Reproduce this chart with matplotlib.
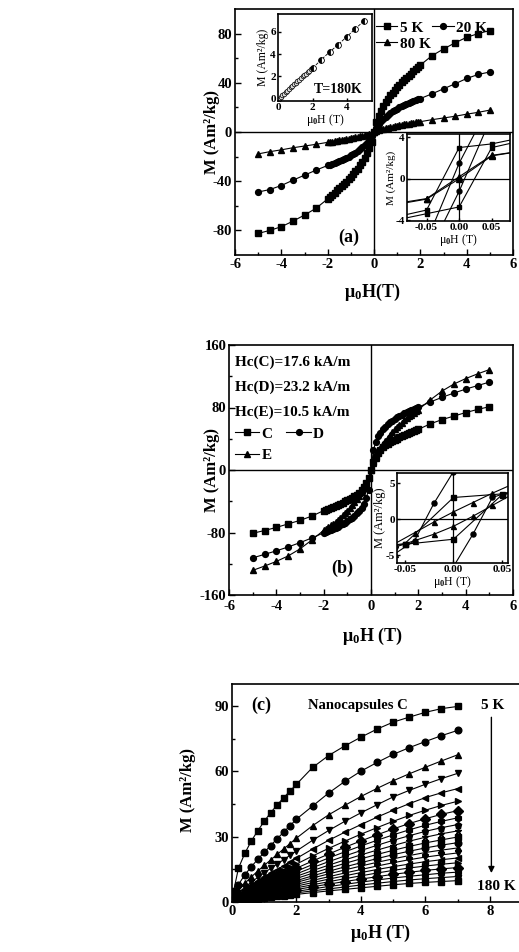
import numpy as np
import matplotlib
matplotlib.use('Agg')
import matplotlib.pyplot as plt

plt.rcParams['font.family'] = 'Liberation Serif'
plt.rcParams['font.weight'] = 'bold'
plt.rcParams['mathtext.fontset'] = 'custom'
plt.rcParams['mathtext.rm'] = 'Liberation Serif:bold'
plt.rcParams['mathtext.it'] = 'Liberation Serif:bold'
plt.rcParams['mathtext.bf'] = 'Liberation Serif:bold'
plt.rcParams['axes.unicode_minus'] = False

# ---------------- data (a): M-H loops at 5, 20, 80 K (positive half, loop is odd) ----
h_pos = [0.1, 0.2, 0.3, 0.4, 0.5, 0.6, 0.7, 0.8, 0.9, 1.0, 1.1, 1.2, 1.3, 1.4, 1.5,
         1.6, 1.7, 1.8, 1.9, 2.0, 2.5, 3.0, 3.5, 4.0, 4.5, 5.0]
m_5k = [8, 13, 17, 21, 24, 27, 30, 32, 34.5, 36.5, 38.5, 40.5, 42.3, 44, 45.8,
        47.5, 49.2, 51, 52.7, 54.4, 62, 67.5, 72.5, 77, 80, 82.5]
m_20k = [3.5, 6.5, 8.8, 10.8, 12.5, 14, 15.4, 16.7, 17.9, 19, 20, 21, 22, 22.9, 23.7,
         24.5, 25.2, 25.9, 26.5, 27.2, 31, 35.1, 39.2, 43.5, 46.8, 48.8]
m_80k = [1.0, 1.6, 2.1, 2.6, 3.0, 3.5, 3.9, 4.3, 4.7, 5.1, 5.4, 5.8, 6.1, 6.5, 6.8,
         7.1, 7.4, 7.8, 8.1, 8.4, 10, 11.4, 12.8, 14.5, 16, 17.8]

# inset: T = 180 K
ins_h_small = [0.1, 0.2, 0.3, 0.4, 0.5, 0.6, 0.7, 0.8, 0.9, 1.0, 1.1, 1.2, 1.3, 1.4,
               1.5, 1.6, 1.7, 1.8, 1.9]
ins_m_small = [0.15, 0.3, 0.45, 0.6, 0.74, 0.88, 1.02, 1.16, 1.3, 1.44, 1.58, 1.72,
               1.86, 2.0, 2.13, 2.26, 2.39, 2.51, 2.63]
ins_h_big = [2.0, 2.5, 3.0, 3.5, 4.0, 4.5, 5.0]
ins_m_big = [2.75, 3.5, 4.2, 4.85, 5.55, 6.25, 6.95]

# inset: low-field loops (descending / ascending branches)
loop_h = [0.1, 0.05, 0.0, -0.05, -0.1]
a_5k_desc = [4.0, 3.35, 3.0, -3.0, -3.7]
a_5k_asc = [3.7, 3.0, -2.7, -3.35, -4.0]
a_20k_desc = [9.5, 7.5, 1.5, -6.0, -8.5]
a_20k_asc = [8.5, 6.0, -1.2, -7.5, -9.5]
a_80k_desc = [2.7, 2.25, 0.2, -1.9, -2.4]
a_80k_asc = [2.7, 2.2, 0.0, -1.95, -2.5]

# ---------------- data (b): samples C, D, E ----
m_c = [10, 17, 22, 26, 29, 31.5, 33.5, 35.5, 37.2, 38.8, 40.3, 41.7, 43, 44.3, 45.6,
       46.9, 48.2, 49.5, 50.8, 52, 59, 64.5, 69, 73.5, 77.5, 81]
m_d = [25, 36, 43, 48, 52, 55.5, 58.5, 61, 63.3, 65.5, 67.5, 69.3, 71, 72.6, 74,
       75.4, 76.7, 78, 79.2, 80.4, 87, 93, 98.5, 103.5, 108, 112.5]
m_e = [9, 16, 22.5, 28, 33, 37.5, 41.5, 45.2, 48.7, 52, 55, 58, 60.8, 63.5, 66,
       68.5, 70.8, 73, 75.1, 77.2, 89.6, 101, 110, 117, 123, 128.5]
hc_texts = ['Hc(C)=17.6 kA/m', 'Hc(D)=23.2 kA/m', 'Hc(E)=10.5 kA/m']

b_c_h_desc = [0.1, 0.05, 0.0, -0.05, -0.1]
b_c_desc = [4.3, 3.5, 3.0, -3.4, -4.3]
b_c_asc = [4.3, 3.4, -2.8, -3.5, -4.3]
b_d_h_desc = [0.06, 0.04, 0.02, 0.0, -0.02, -0.04, -0.06]
b_d_desc = [8.6, 8.0, 7.4, 6.6, 2.2, -3.0, -3.9]
b_d_asc = [3.9, 3.0, -2.1, -6.6, -7.4, -8.0, -8.6]
b_e_h_desc = [0.08, 0.06, 0.04, 0.02, 0.0, -0.02, -0.04, -0.06, -0.08]
b_e_desc = [5.8, 4.8, 3.6, 2.3, 1.0, -0.4, -1.9, -3.4, -4.6]
b_e_asc = [4.6, 3.4, 1.9, 0.4, -1.0, -2.1, -3.0, -4.8, -5.8]

# ---------------- data (c): nanocapsules C, 5 K ... 180 K ----
c_h = [0.05, 0.2, 0.4, 0.6, 0.8, 1.0, 1.2, 1.4, 1.6, 1.8, 2.0,
       2.5, 3.0, 3.5, 4.0, 4.5, 5.0, 5.5, 6.0, 6.5, 7.0]
c_m = [
    [5, 15.5, 22.4, 28, 32.7, 37, 41, 44.5, 47.8, 50.9, 54, 61.7, 67.2, 71.6, 75.6, 79.3, 82.5, 84.8, 87, 88.7, 89.7],
    [3, 8, 12.5, 16.2, 19.6, 22.8, 25.9, 29, 32, 35, 38, 44, 50, 55.3, 60, 64, 67.7, 70.8, 73.6, 76.3, 78.7],
    [2, 5.5, 8.6, 11.5, 14.2, 16.8, 19.3, 21.8, 24.3, 26.8, 29.3, 35, 40, 44.3, 48.4, 52.1, 55.6, 58.8, 61.8, 64.7, 67.5],
    [1.5, 4.2, 6.8, 9.1, 11.3, 13.4, 15.4, 17.4, 19.4, 21.4, 23.4, 28.3, 32.8, 37, 40.9, 44.6, 48.2, 51.2, 54, 56.6, 59],
    [1.2, 3.4, 5.6, 7.6, 9.5, 11.3, 13.1, 14.9, 16.6, 18.3, 20, 24.3, 28.3, 32, 35.5, 38.9, 42.1, 45.1, 47.9, 50.1, 52],
    [1.0, 2.9, 4.8, 6.5, 8.2, 9.8, 11.4, 12.9, 14.4, 15.9, 17.4, 21.1, 24.6, 27.9, 31.1, 34.1, 37, 39.7, 42.1, 44.3, 46.2],
    [0.9, 2.5, 4.2, 5.8, 7.3, 8.7, 10.1, 11.5, 12.9, 14.2, 15.5, 18.8, 22, 25.1, 28, 30.8, 33.5, 36, 38.2, 40.2, 41.9],
    [0.8, 2.3, 3.8, 5.2, 6.6, 7.9, 9.2, 10.5, 11.7, 12.9, 14.1, 17.2, 20.2, 23, 25.7, 28.3, 30.8, 33.1, 35.2, 37, 38.6],
    [0.7, 2.1, 3.5, 4.8, 6.0, 7.2, 8.4, 9.6, 10.7, 11.8, 12.9, 15.8, 18.5, 21.1, 23.6, 26, 28.3, 30.4, 32.4, 34.1, 35.5],
    [0.6, 1.9, 3.2, 4.4, 5.5, 6.6, 7.7, 8.8, 9.8, 10.8, 11.8, 14.4, 16.9, 19.3, 21.6, 23.8, 25.9, 27.9, 29.7, 31.3, 32.6],
    [0.6, 1.7, 2.9, 4.0, 5.0, 6.0, 7.0, 8.0, 9.0, 9.9, 10.8, 13.2, 15.5, 17.7, 19.8, 21.8, 23.7, 25.5, 27.1, 28.5, 29.8],
    [0.5, 1.6, 2.6, 3.6, 4.6, 5.5, 6.4, 7.3, 8.2, 9.0, 9.8, 12.0, 14.1, 16.1, 18.0, 19.9, 21.7, 23.3, 24.8, 26.1, 27.2],
    [0.5, 1.4, 2.4, 3.3, 4.2, 5.0, 5.8, 6.6, 7.4, 8.2, 9.0, 11.0, 12.9, 14.7, 16.5, 18.2, 19.8, 21.3, 22.7, 23.8, 24.8],
    [0.4, 1.3, 2.2, 3.0, 3.8, 4.5, 5.3, 6.0, 6.7, 7.4, 8.1, 9.9, 11.6, 13.3, 14.9, 16.5, 18.0, 19.4, 20.6, 21.6, 22.5],
    [0.4, 1.2, 1.9, 2.7, 3.4, 4.1, 4.7, 5.4, 6.0, 6.7, 7.3, 8.9, 10.5, 12.0, 13.5, 14.9, 16.2, 17.4, 18.5, 19.4, 20.2],
    [0.3, 1.0, 1.7, 2.4, 3.0, 3.6, 4.2, 4.8, 5.4, 5.9, 6.5, 7.9, 9.3, 10.7, 12.0, 13.3, 14.5, 15.6, 16.5, 17.3, 18.0],
    [0.3, 0.9, 1.5, 2.1, 2.6, 3.2, 3.7, 4.2, 4.7, 5.2, 5.7, 7.0, 8.2, 9.4, 10.5, 11.6, 12.7, 13.6, 14.5, 15.2, 15.8],
    [0.2, 0.8, 1.3, 1.8, 2.3, 2.7, 3.2, 3.6, 4.1, 4.5, 4.9, 6.0, 7.1, 8.1, 9.1, 10.1, 11.0, 11.8, 12.5, 13.2, 13.7],
    [0.2, 0.7, 1.1, 1.5, 1.9, 2.3, 2.7, 3.1, 3.5, 3.8, 4.2, 5.1, 6.0, 6.9, 7.8, 8.6, 9.4, 10.1, 10.7, 11.2, 11.7],
    [0.2, 0.5, 0.9, 1.3, 1.6, 1.9, 2.3, 2.6, 2.9, 3.2, 3.5, 4.3, 5.1, 5.8, 6.5, 7.2, 7.9, 8.5, 9.0, 9.4, 9.8],
]
c_markers = ['s', 'o', '^', 'v', '<', '>', 'D', 'h', 'p', '*', 's', 'o', '^', 'v',
             '<', '>', 'D', 'h', 'p', 's']

W, H = 519, 952
fig = plt.figure(figsize=(W / 100, H / 100), dpi=100)


def px_axes(l, t, r, b):
    return fig.add_axes([l / W, 1 - b / H, (r - l) / W, (b - t) / H])


def odd(vals):
    # loop is symmetric: M(-H) = -M(H)
    return np.concatenate([-np.array(vals[::-1]), [0.0], np.array(vals)])


def style(ax, size=10, length=4, pad=2):
    for s in ax.spines.values():
        s.set_linewidth(1.2)
    ax.tick_params(direction='in', which='both', top=False, right=False,
                   labelsize=size, pad=pad, width=1.0)
    ax.tick_params(which='major', length=length)
    ax.tick_params(which='minor', length=length * 0.6)


H_full = odd(h_pos)
mk = dict(color='k', lw=0.8, ms=4.2)

# ================= panel (a) =================
ax = px_axes(235, 9, 513, 255)
l1, = ax.plot(H_full, odd(m_5k), marker='s', **mk)
l2, = ax.plot(H_full, odd(m_20k), marker='o', **mk)
l3, = ax.plot(H_full, odd(m_80k), marker='^', **mk)
ax.axhline(0, color='k', lw=1.0)
ax.axvline(0, color='k', lw=1.0)
ax.set_xlim(-6, 6)
ax.set_ylim(-100, 100)
ax.set_xticks([-6, -4, -2, 0, 2, 4, 6])
ax.set_xticks([-5, -3, -1, 1, 3, 5], minor=True)
ax.set_yticks([-80, -40, 0, 40, 80])
ax.set_yticks([-60, -20, 20, 60], minor=True)
style(ax, size=10.5)
ax.legend([l1, l3, l2], ['5 K', '80 K', '20 K'], ncol=2, loc='upper left',
          bbox_to_anchor=((376 - 235) / 278, 1 - 12 / 246), frameon=False,
          fontsize=11, handlelength=1.4, handletextpad=0.15, columnspacing=0.1,
          labelspacing=0.15, borderaxespad=0, borderpad=0)
ax.text(0.41, 0.07, '(a)', transform=ax.transAxes, fontsize=13, ha='center', va='center')

# inset (a1): T = 180 K
ia = px_axes(278, 14, 372, 101)
ia.plot([0] + ins_h_small, [0] + ins_m_small, color='k', lw=0.6, marker='o', ms=3.3,
        mfc='#dddddd', mec='k', mew=0.5)
ia.plot(ins_h_big, ins_m_big, color='k', lw=0.6, ls='--', marker='o', ms=4.2,
        fillstyle='left', mfc='k', mfcalt='white', mec='k', mew=0.6)
ia.set_xlim(-0.05, 5.5)
ia.set_ylim(-0.2, 7.6)
ia.set_xticks([0, 2, 4])
ia.set_yticks([0, 2, 4, 6])
style(ia, size=8, length=2.5, pad=1.5)
ia.set_xlabel('μ$_0$H (T)', fontsize=8.5, labelpad=0)
ia.set_ylabel('M (Am²/kg)', fontsize=8.5, labelpad=1)
ia.text(0.38, 0.13, 'T=180K', transform=ia.transAxes, fontsize=10, ha='left', va='center')

# inset (a2): low field
ib = px_axes(407, 134, 510, 221)
ib.plot(loop_h, a_5k_desc, marker='s', **dict(mk, ms=3.5))
ib.plot(loop_h, a_5k_asc, marker='s', **dict(mk, ms=3.5))
ib.plot(loop_h, a_20k_desc, marker='o', **dict(mk, ms=3.5))
ib.plot(loop_h, a_20k_asc, marker='o', **dict(mk, ms=3.5))
ib.plot(loop_h, a_80k_desc, marker='^', **dict(mk, ms=3.8))
ib.plot(loop_h, a_80k_asc, marker='^', **dict(mk, ms=3.8))
ib.axhline(0, color='k', lw=0.9)
ib.axvline(0, color='k', lw=0.9)
ib.set_xlim(-0.08, 0.078)
ib.set_ylim(-4.05, 4.3)
ib.set_xticks([-0.05, 0.0, 0.05])
ib.set_xticklabels(['-0.05', '0.00', '0.05'])
ib.set_yticks([-4, 0, 4])
style(ib, size=8, length=2.5, pad=1.5)
ib.set_xlabel('μ$_0$H (T)', fontsize=8.5, labelpad=0)
ib.set_ylabel('M (Am²/kg)', fontsize=8, labelpad=0)

fig.text(212 / W, 1 - 132 / H, 'M (Am²/kg)', rotation=90, ha='center', va='center', fontsize=12)
fig.text(372 / W, 1 - 292 / H, 'μ$_0$H(T)', ha='center', va='center', fontsize=13)

# ================= panel (b) =================
bx = px_axes(229, 345, 513, 595)
k1, = bx.plot(H_full, odd(m_c), marker='s', **mk)
k2, = bx.plot(H_full, odd(m_d), marker='o', **mk)
k3, = bx.plot(H_full, odd(m_e), marker='^', **mk)
bx.axhline(0, color='k', lw=1.0)
bx.axvline(0, color='k', lw=1.0)
bx.set_xlim(-6, 6)
bx.set_ylim(-160, 160)
bx.set_xticks([-6, -4, -2, 0, 2, 4, 6])
bx.set_xticks([-5, -3, -1, 1, 3, 5], minor=True)
bx.set_yticks([-160, -80, 0, 80, 160])
bx.set_yticks([-120, -40, 40, 120], minor=True)
style(bx, size=10.5)
bx.tick_params(axis='x', pad=3.5)
for i, t in enumerate(hc_texts):
    bx.text(6 / 284, 1 - (17 + 25 * i) / 250, t, transform=bx.transAxes,
            fontsize=11, ha='left', va='center')
bx.legend([k1, k3, k2], ['C', 'E', 'D'], ncol=2, loc='upper left',
          bbox_to_anchor=(6 / 284, 1 - 82 / 250), frameon=False,
          fontsize=11, handlelength=1.6, handletextpad=0.15, columnspacing=0.9,
          labelspacing=0.5, borderaxespad=0, borderpad=0)
bx.text(0.40, 0.105, '(b)', transform=bx.transAxes, fontsize=13, ha='center', va='center')

ic = px_axes(397, 473, 508, 563)
for hh, dd, aa, m in [(b_c_h_desc, b_c_desc, b_c_asc, 's'),
                      (b_d_h_desc, b_d_desc, b_d_asc, 'o'),
                      (b_e_h_desc, b_e_desc, b_e_asc, '^')]:
    ic.plot(hh, dd, marker=m, **dict(mk, ms=3.6))
    ic.plot(hh, aa, marker=m, **dict(mk, ms=3.6))
ic.axhline(0, color='k', lw=0.9)
ic.axvline(0, color='k', lw=0.9)
ic.set_xlim(-0.058, 0.056)
ic.set_ylim(-6.1, 6.4)
ic.set_xticks([-0.05, 0.0, 0.05])
ic.set_xticklabels(['-0.05', '0.00', '0.05'])
ic.set_yticks([-5, 0, 5])
style(ic, size=8, length=2.5, pad=1.5)
ic.set_xlabel('μ$_0$H (T)', fontsize=8.5, labelpad=0)
ic.set_ylabel('M (Am²/kg)', fontsize=9, labelpad=0)

fig.text(212 / W, 1 - 470 / H, 'M (Am²/kg)', rotation=90, ha='center', va='center', fontsize=12)
fig.text(372 / W, 1 - 636 / H, 'μ$_0$H (T)', ha='center', va='center', fontsize=13)

# ================= panel (c) =================
cx = px_axes(232, 684, 522, 902)
for row, m in zip(c_m, c_markers):
    cx.plot(c_h, row, marker=m, color='k', lw=0.8, ms=4.8)
cx.set_xlim(0, 9)
cx.set_ylim(0, 100)
cx.set_xticks([0, 2, 4, 6, 8])
cx.set_xticks([1, 3, 5, 7], minor=True)
cx.set_yticks([0, 30, 60, 90])
cx.set_yticks([15, 45, 75], minor=True)
style(cx, size=10.5)
cx.text(0.9, 90, '(c)', fontsize=13, ha='center', va='center')
cx.text(3.9, 90, 'Nanocapsules C', fontsize=10.5, ha='center', va='center')
cx.text(8.1, 90, '5 K', fontsize=11, ha='center', va='center')
cx.text(8.2, 7, '180 K', fontsize=11, ha='center', va='center')
cx.annotate('', xy=(8.05, 12), xytext=(8.05, 86),
            arrowprops=dict(arrowstyle='-|>', color='k', lw=1.0, mutation_scale=9))

fig.text(188 / W, 1 - 790 / H, 'M (Am²/kg)', rotation=90, ha='center', va='center', fontsize=12)
fig.text(380 / W, 1 - 933 / H, 'μ$_0$H (T)', ha='center', va='center', fontsize=13)

fig.savefig('out.png', dpi=100)
